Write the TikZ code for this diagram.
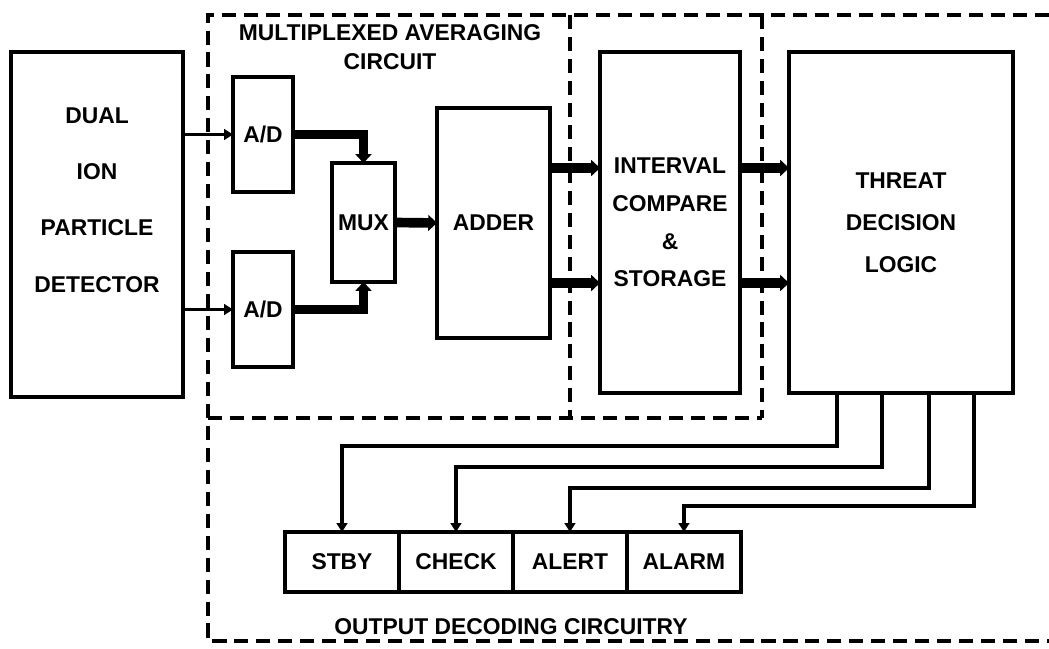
\documentclass[tikz,border=0pt]{standalone}
\usepackage{fontspec}
\setmainfont{Liberation Sans}
\usetikzlibrary{arrows.meta, positioning}

\begin{document}
\begin{tikzpicture}[
  x=0.02cm, y=-0.02cm,
  blk/.style={rectangle, draw, line width=2.2pt, font=\fontsize{13}{21.5}\selectfont\bfseries, align=center, inner sep=0pt, outer sep=0pt},
  txt/.style={font=\fontsize{13}{16.5}\selectfont\bfseries, align=center, inner sep=0pt},
  outbox/.style={blk, minimum width=2.28cm, minimum height=1.2cm},
  sig/.style={line width=1.9pt, -{Triangle[length=5pt, width=6pt]}},
  bus/.style={line width=5.5pt, -{Triangle[length=5pt, width=9pt]}},
  zone/.style={line width=2.2pt, dash pattern=on 8pt off 4.5pt},
]
\useasboundingbox (0,0) rectangle (1049,649);

\node[blk, minimum width=3.44cm, minimum height=6.9cm] (det) at (97,224.5) {};
\node[txt, font=\fontsize{13}{32}\selectfont\bfseries] (detlbl) at (97,200) {DUAL\\ION\\PARTICLE\\DETECTOR};
\node[blk, minimum width=1.2cm, minimum height=2.3cm]   (ad1)    at (263,134.5) {A/D};
\node[blk, minimum width=1.2cm, minimum height=2.3cm]   (ad2)    at (263,309.5) {A/D};
\node[blk, minimum width=1.26cm, minimum height=2.38cm] (mux)    at (363.5,222.5) {MUX};
\node[blk, minimum width=2.26cm, minimum height=4.6cm]  (adder)  at (493.5,223) {ADDER};
\node[blk, minimum width=2.8cm, minimum height=6.82cm]  (icmp)   at (670,222.5) {INTERVAL\\COMPARE\\\&\\STORAGE};
\node[blk, minimum width=4.48cm, minimum height=6.82cm, font=\fontsize{13}{24}\selectfont\bfseries] (threat) at (901,222.5) {THREAT\\DECISION\\LOGIC};
\node[txt] (avglbl) at (390,47.5) {MULTIPLEXED AVERAGING\\CIRCUIT};

\node[outbox] (stby)  at (342,562) {STBY};
\node[outbox, right=0pt of stby]  (check) {CHECK};
\node[outbox, right=0pt of check] (alert) {ALERT};
\node[outbox, right=0pt of alert] (alarm) {ALARM};
\node[txt] (outlbl) at (511,627) {OUTPUT DECODING CIRCUITRY};

\draw[zone] (1049,15) -- (208,15) -- (208,641) -- (1049,641);
\draw[zone] (208,418) -- (762,418);
\draw[zone] (570,15) -- (570,418);
\draw[zone] (762,15) -- (762,418);

\coordinate (hi) at (0,168);
\coordinate (lo) at (0,283);
\coordinate (t1) at (837,446);
\coordinate (t2) at (882,467);
\coordinate (t3) at (929,488);
\coordinate (t4) at (974,506);

\draw[sig] (ad1.west -| det.east) -- (ad1.west);
\draw[sig] (ad2.west -| det.east) -- (ad2.west);
\draw[bus] (ad1.east) -| (mux.north);
\draw[bus] (ad2.east) -| (mux.south);
\draw[bus] (mux.east) -- (adder.west);
\draw[bus] (adder.east |- hi) -- (icmp.west |- hi);
\draw[bus] (adder.east |- lo) -- (icmp.west |- lo);
\draw[bus] (icmp.east |- hi) -- (threat.west |- hi);
\draw[bus] (icmp.east |- lo) -- (threat.west |- lo);
\draw[sig] (threat.south -| t1) -- (t1) -| (stby.north);
\draw[sig] (threat.south -| t2) -- (t2) -| (check.north);
\draw[sig] (threat.south -| t3) -- (t3) -| (alert.north);
\draw[sig] (threat.south -| t4) -- (t4) -| (alarm.north);
\end{tikzpicture}
\end{document}
